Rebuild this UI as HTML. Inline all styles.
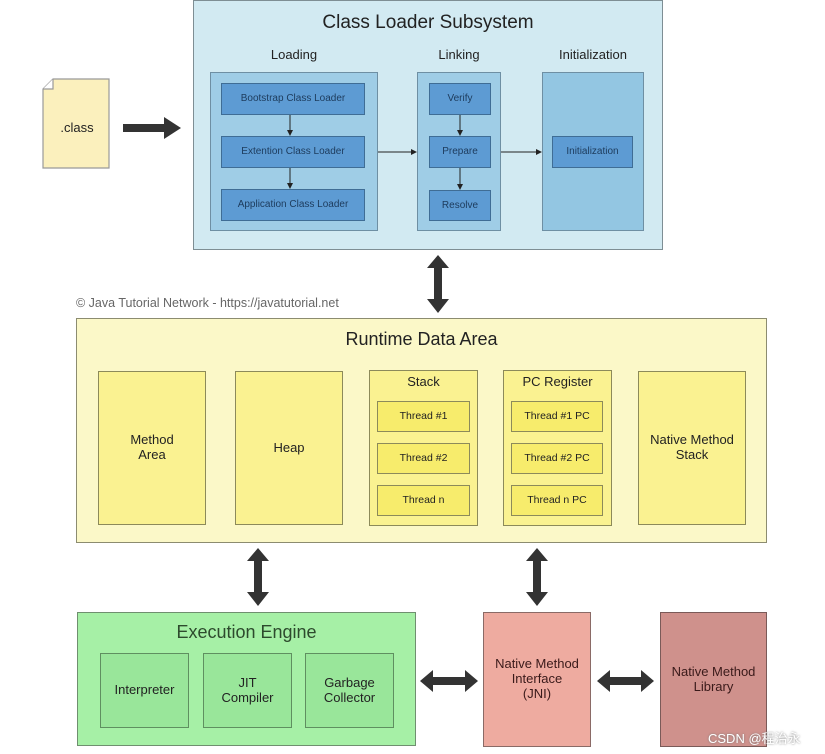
<!DOCTYPE html>
<html><head><meta charset="utf-8"><style>
*{margin:0;padding:0;box-sizing:border-box}
body{width:825px;height:754px;background:#fff;position:relative;overflow:hidden;font-family:"Liberation Sans",Arial,sans-serif;color:#222}
.b{position:absolute;border:1.5px solid #6b7a80;display:flex;align-items:center;justify-content:center;text-align:center;line-height:1.15}
.t{position:absolute;text-align:center;white-space:nowrap}
.bl{background:#5d9bd3;border-color:#3f6d95;font-size:10px;color:#1d3b5c}
.yl{background:#faf291;border-color:#8c8a5a;font-size:13px}
.ys{background:#f7ec6c;border-color:#8c8a5a;font-size:10.5px}
.gr{background:#99e69a;border-color:#5f8f60;font-size:13px}
</style></head><body>
<!-- class loader -->
<div class="b" style="left:193px;top:0;width:470px;height:250px;background:#d2eaf2;border-color:#7e8e94"></div>
<div class="t" style="left:193px;width:470px;top:12px;font-size:19px">Class Loader Subsystem</div>
<div class="t" style="left:209px;width:170px;top:47px;font-size:13px">Loading</div>
<div class="t" style="left:416px;width:86px;top:47px;font-size:13px">Linking</div>
<div class="t" style="left:542px;width:102px;top:47px;font-size:13px">Initialization</div>
<div class="b" style="left:210px;top:72px;width:168px;height:159px;background:#9fcde6;border-color:#6e8fa3"></div>
<div class="b" style="left:417px;top:72px;width:84px;height:159px;background:#9fcde6;border-color:#6e8fa3"></div>
<div class="b" style="left:542px;top:72px;width:102px;height:159px;background:#93c6e2;border-color:#6e8fa3"></div>
<div class="b bl" style="left:221px;top:83px;width:144px;height:32px">Bootstrap Class Loader</div>
<div class="b bl" style="left:221px;top:136px;width:144px;height:32px">Extention Class Loader</div>
<div class="b bl" style="left:221px;top:189px;width:144px;height:32px">Application Class Loader</div>
<div class="b bl" style="left:429px;top:83px;width:62px;height:32px">Verify</div>
<div class="b bl" style="left:429px;top:136px;width:62px;height:32px">Prepare</div>
<div class="b bl" style="left:429px;top:190px;width:62px;height:31px">Resolve</div>
<div class="b bl" style="left:552px;top:136px;width:81px;height:32px">Initialization</div>
<!-- doc -->
<svg style="position:absolute;left:0;top:0" width="825" height="754">
<defs><marker id="a" markerWidth="6" markerHeight="6" refX="5" refY="3" orient="auto"><path d="M0,0 L6,3 L0,6z" fill="#222"/></marker></defs>
<path d="M53,79 L109,79 L109,168 L43,168 L43,89 Z" fill="#fbf0bd" stroke="#999" stroke-width="1.2"/>
<path d="M43,89 L53,89 L53,79" fill="#fff" stroke="#999" stroke-width="1.2"/>
<text x="77" y="132" font-size="13" text-anchor="middle" font-family="Liberation Sans" fill="#222">.class</text>
<path d="M123,124 L164,124 L164,117 L181,128 L164,139 L164,132 L123,132Z" fill="#333"/>
<g stroke="#222" stroke-width="1" fill="none" marker-end="url(#a)">
<line x1="290" y1="115" x2="290" y2="135"/><line x1="290" y1="168" x2="290" y2="188"/>
<line x1="460" y1="115" x2="460" y2="135"/><line x1="460" y1="168" x2="460" y2="189"/>
<line x1="378" y1="152" x2="416" y2="152"/><line x1="501" y1="152" x2="541" y2="152"/>
</g>
<g fill="#333">
<path d="M438,255 L449,268 L442,268 L442,299 L449,299 L438,313 L427,299 L434,299 L434,268 L427,268Z"/>
<path d="M258,548 L269,561 L262,561 L262,592 L269,592 L258,606 L247,592 L254,592 L254,561 L247,561Z"/>
<path d="M537,548 L548,561 L541,561 L541,592 L548,592 L537,606 L526,592 L533,592 L533,561 L526,561Z"/>
<path d="M420,681 L433,670 L433,677 L465,677 L465,670 L478,681 L465,692 L465,685 L433,685 L433,692Z"/>
<path d="M597,681 L610,670 L610,677 L641,677 L641,670 L654,681 L641,692 L641,685 L610,685 L610,692Z"/>
</g>
</svg>
<div class="t" style="left:76px;top:296px;font-size:12.5px;color:#666">© Java Tutorial Network - https://javatutorial.net</div>
<!-- runtime -->
<div class="b" style="left:76px;top:318px;width:691px;height:225px;background:#fbf8c8;border-color:#8c8c70"></div>
<div class="t" style="left:76px;width:691px;top:329px;font-size:18px">Runtime Data Area</div>
<div class="b yl" style="left:98px;top:371px;width:108px;height:154px">Method<br>Area</div>
<div class="b yl" style="left:235px;top:371px;width:108px;height:154px">Heap</div>
<div class="b yl" style="left:369px;top:370px;width:109px;height:156px;align-items:flex-start;padding-top:4px">Stack</div>
<div class="b yl" style="left:503px;top:370px;width:109px;height:156px;align-items:flex-start;padding-top:4px">PC Register</div>
<div class="b yl" style="left:638px;top:371px;width:108px;height:154px">Native Method<br>Stack</div>
<div class="b ys" style="left:377px;top:401px;width:93px;height:31px">Thread #1</div>
<div class="b ys" style="left:377px;top:443px;width:93px;height:31px">Thread #2</div>
<div class="b ys" style="left:377px;top:485px;width:93px;height:31px">Thread n</div>
<div class="b ys" style="left:511px;top:401px;width:92px;height:31px">Thread #1 PC</div>
<div class="b ys" style="left:511px;top:443px;width:92px;height:31px">Thread #2 PC</div>
<div class="b ys" style="left:511px;top:485px;width:92px;height:31px">Thread n PC</div>
<!-- exec -->
<div class="b" style="left:77px;top:612px;width:339px;height:134px;background:#a6f0a6;border-color:#6f8f6f"></div>
<div class="t" style="left:77px;width:339px;top:622px;font-size:18px;color:#2d4a2d">Execution Engine</div>
<div class="b gr" style="left:100px;top:653px;width:89px;height:75px">Interpreter</div>
<div class="b gr" style="left:203px;top:653px;width:89px;height:75px">JIT<br>Compiler</div>
<div class="b gr" style="left:305px;top:653px;width:89px;height:75px">Garbage<br>Collector</div>
<div class="b" style="left:483px;top:612px;width:108px;height:135px;background:#eeaba0;border-color:#8a6a66;font-size:13px;color:#3a1a1a">Native Method<br>Interface<br>(JNI)</div>
<div class="b" style="left:660px;top:612px;width:107px;height:135px;background:#cf918c;border-color:#7a5a58;font-size:13px;color:#3a1a1a">Native Method<br>Library</div>
<div class="t" style="left:708px;top:728px;font-size:13px;color:#fff;font-family:'Liberation Sans','Noto Sans CJK SC',sans-serif;text-shadow:0 0 2px #777">CSDN @程治永</div>
</body></html>
